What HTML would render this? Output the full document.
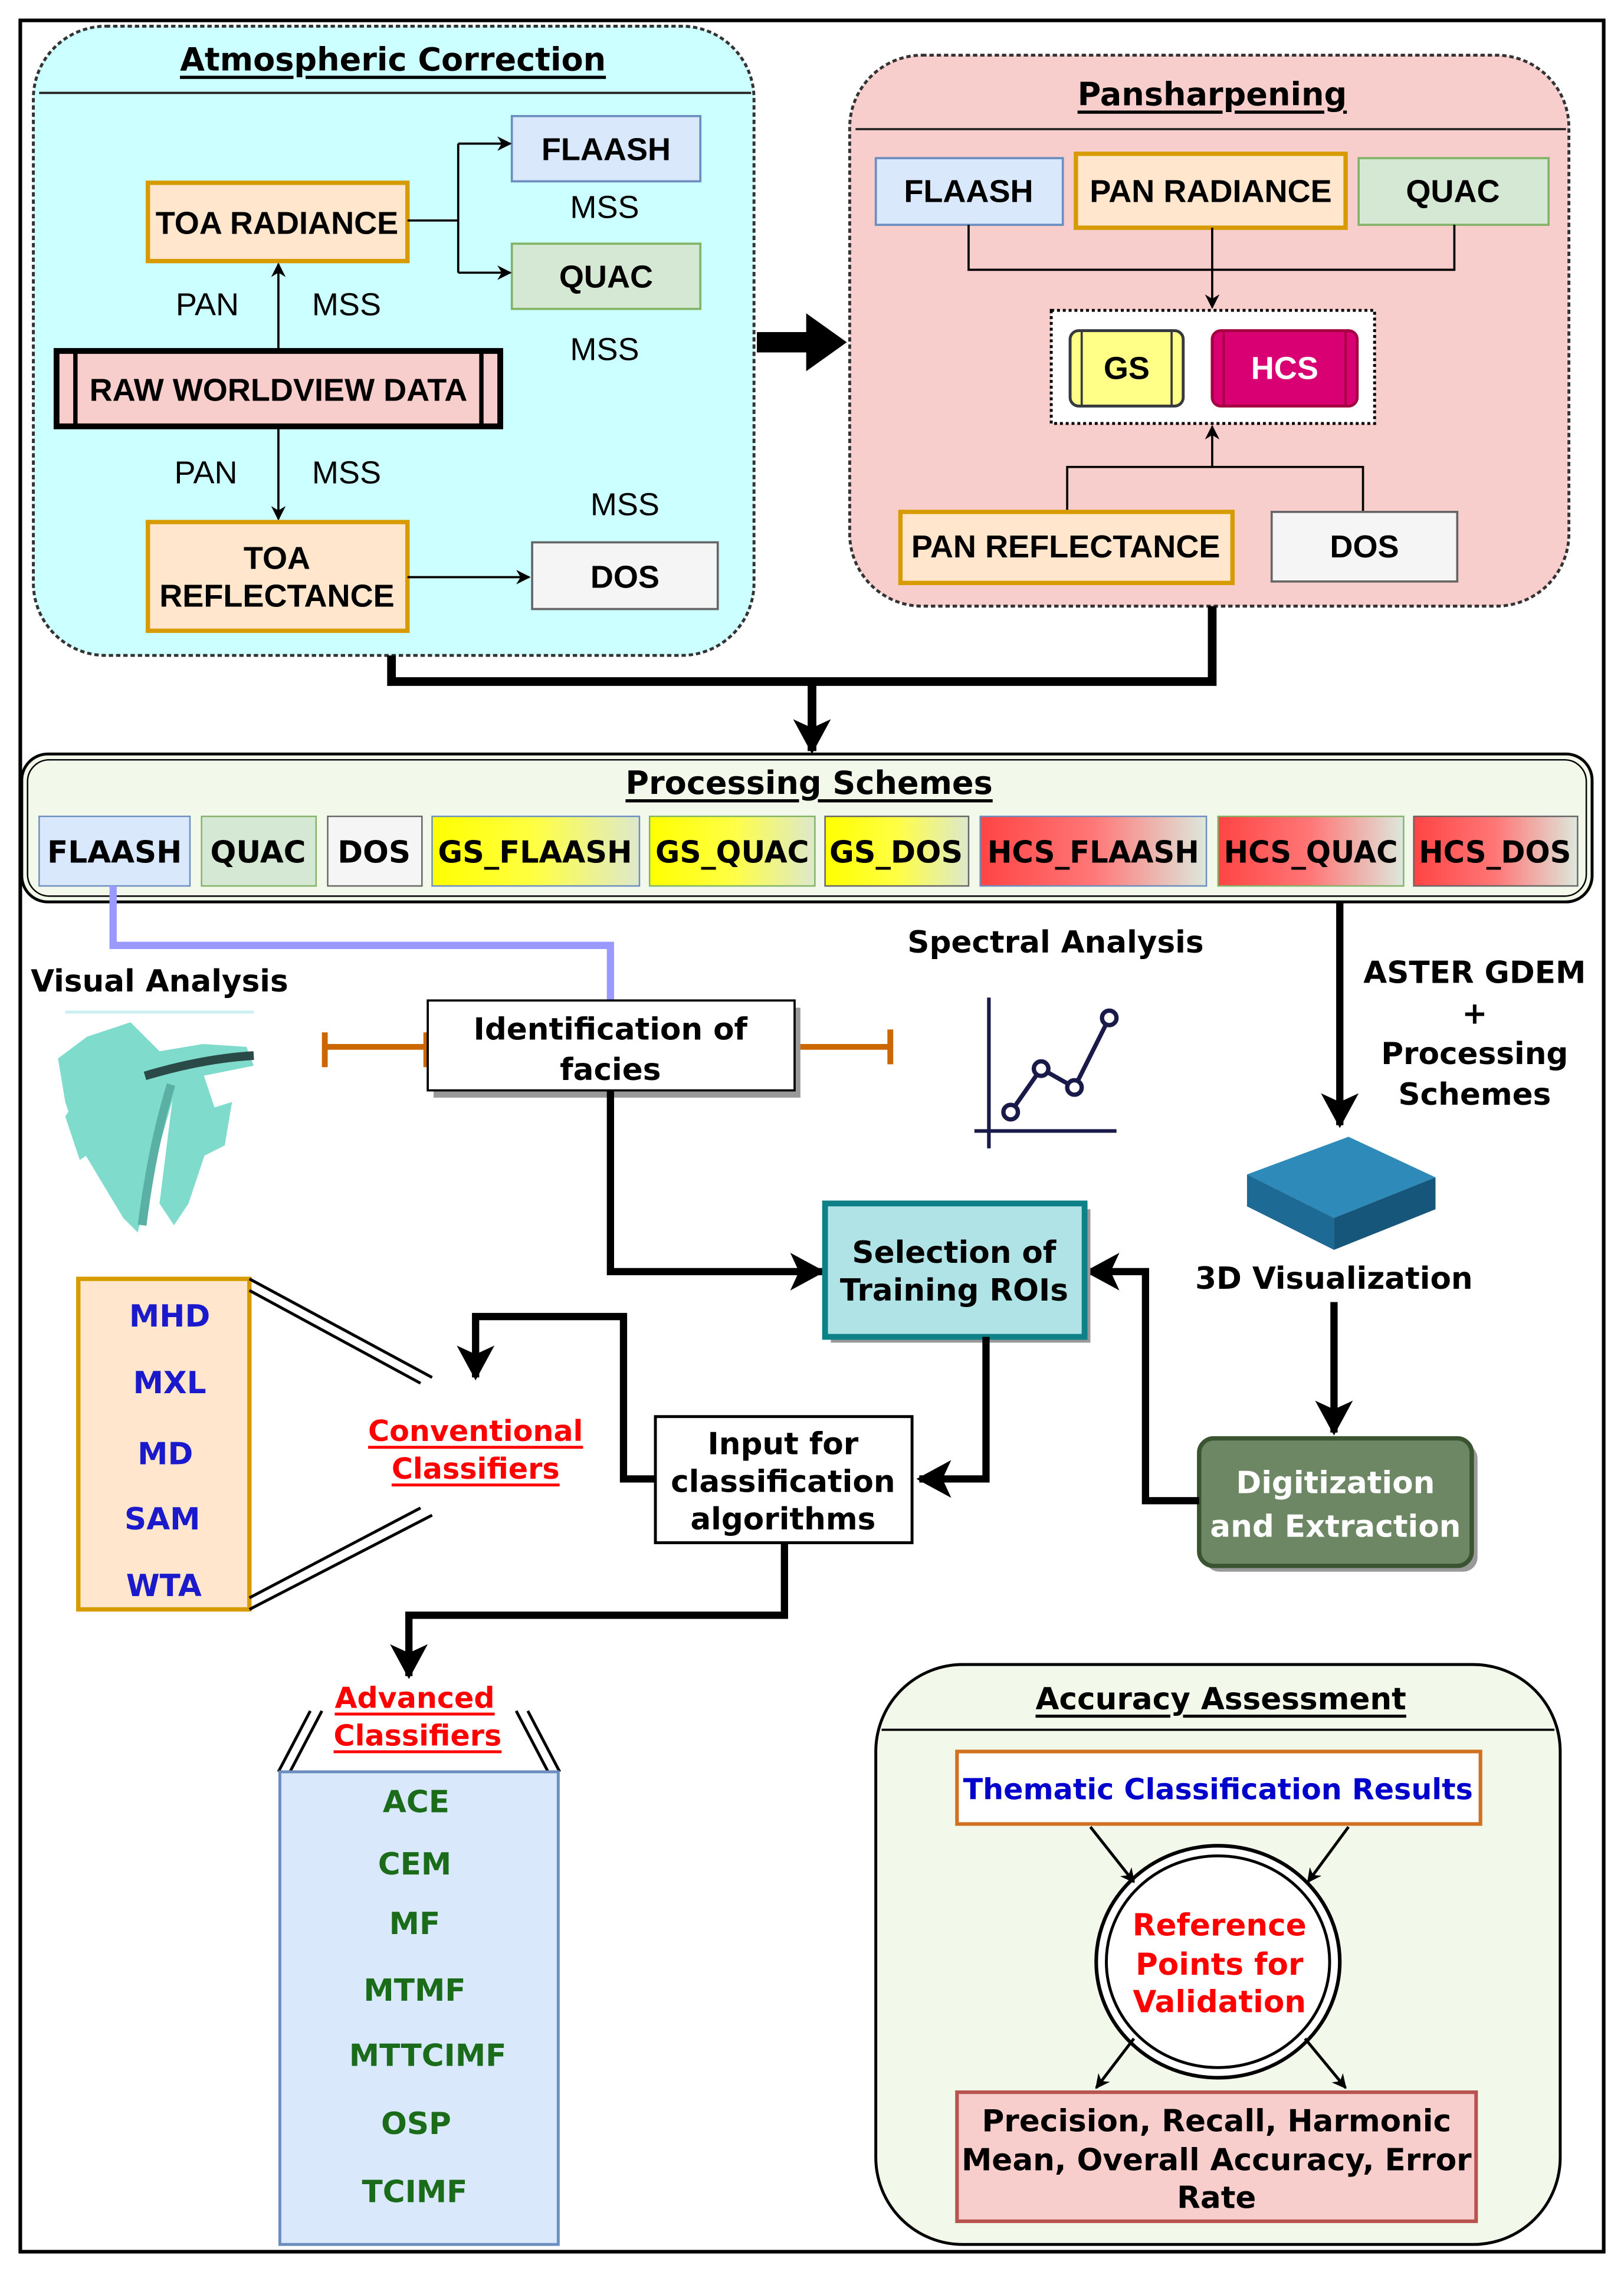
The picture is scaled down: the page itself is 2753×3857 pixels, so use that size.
<!DOCTYPE html>
<html><head><meta charset="utf-8"><style>
html,body{margin:0;padding:0;background:#fff;width:2753px;height:3857px;overflow:hidden}
svg{display:block}
text{font-family:"DejaVu Sans","Liberation Sans",sans-serif;font-weight:bold;text-anchor:middle;dominant-baseline:central}
.a{font-family:"Liberation Sans",sans-serif;font-weight:normal;font-size:22px}
.s{font-family:"Liberation Sans",sans-serif;font-weight:bold;font-size:21px}
.u{text-decoration:underline}
</style></head><body>
<svg width="2753" height="3857" viewBox="0 0 1120 1569" xmlns="http://www.w3.org/2000/svg">
<defs>
<marker id="ar" markerWidth="10" markerHeight="10" refX="9" refY="5" orient="auto" markerUnits="userSpaceOnUse"><path d="M0,0 L10,5 L0,10 L3,5Z" fill="#000"/></marker>
<marker id="AR" markerWidth="26" markerHeight="26" refX="22" refY="13" orient="auto" markerUnits="userSpaceOnUse"><path d="M0,0 L24,13 L0,26 L6,13Z" fill="#000"/></marker>
<linearGradient id="gy" x1="0" x2="1"><stop offset="0" stop-color="#ffff00"/><stop offset="0.5" stop-color="#ffff44"/><stop offset="1" stop-color="#dde8cc"/></linearGradient>
<linearGradient id="gr" x1="0" x2="1"><stop offset="0" stop-color="#ff4444"/><stop offset="0.5" stop-color="#ff7777"/><stop offset="1" stop-color="#dde8dc"/></linearGradient>
</defs>
<rect x="14" y="14" width="1092" height="1539" fill="#fff" stroke="#000" stroke-width="2.5"/>

<rect x="23" y="18" width="497" height="434" rx="50" fill="#ccffff" stroke="#333" stroke-width="2" stroke-dasharray="3,2"/>
<line x1="27" y1="64" x2="518" y2="64" stroke="#222" stroke-width="1.5"/>
<text x="271" y="41" font-size="22" class="u">Atmospheric Correction</text>
<rect x="353" y="80" width="130" height="45" fill="#dae8fc" stroke="#6c8ebf" stroke-width="1.5"/><text x="418" y="103" class="a" style="font-weight:bold">FLAASH</text>
<rect x="102" y="126" width="179" height="54" fill="#ffe6cc" stroke="#d79b00" stroke-width="3"/><text x="191" y="154" class="a" style="font-weight:bold">TOA RADIANCE</text>
<text x="417" y="143" class="a">MSS</text>
<rect x="353" y="168" width="130" height="45" fill="#d5e8d4" stroke="#82b366" stroke-width="1.5"/><text x="418" y="191" class="a" style="font-weight:bold">QUAC</text>
<text x="417" y="241" class="a">MSS</text>
<path d="M281,152 H316 V99 M316,152 V188" fill="none" stroke="#000" stroke-width="1.5"/>
<path d="M316,99 H352" stroke="#000" stroke-width="1.5" marker-end="url(#ar)"/>
<path d="M316,188 H352" stroke="#000" stroke-width="1.5" marker-end="url(#ar)"/>
<text x="143" y="210" class="a">PAN</text><text x="239" y="210" class="a">MSS</text>
<path d="M192,242 V182" stroke="#000" stroke-width="1.5" marker-end="url(#ar)"/>
<rect x="39" y="242" width="306" height="52" fill="#f8cecc" stroke="#000" stroke-width="4"/>
<line x1="52" y1="242" x2="52" y2="294" stroke="#000" stroke-width="3"/><line x1="332" y1="242" x2="332" y2="294" stroke="#000" stroke-width="3"/>
<text x="192" y="269" class="a" style="font-weight:bold">RAW WORLDVIEW DATA</text>
<text x="142" y="326" class="a">PAN</text><text x="239" y="326" class="a">MSS</text>
<path d="M192,294 V358" stroke="#000" stroke-width="1.5" marker-end="url(#ar)"/>
<rect x="102" y="360" width="179" height="75" fill="#ffe6cc" stroke="#d79b00" stroke-width="3"/>
<text x="191" y="385" class="a" style="font-weight:bold">TOA</text><text x="191" y="411" class="a" style="font-weight:bold">REFLECTANCE</text>
<text x="431" y="348" class="a">MSS</text>
<rect x="367" y="374" width="128" height="46" fill="#f5f5f5" stroke="#666" stroke-width="1.5"/><text x="431" y="398" class="a" style="font-weight:bold">DOS</text>
<path d="M281,398 H365" stroke="#000" stroke-width="1.5" marker-end="url(#ar)"/>

<path d="M522,229 H556 V216 L584,236 L556,256 V243 H522Z" fill="#000"/>

<rect x="586" y="38" width="496" height="380" rx="50" fill="#f8cecc" stroke="#333" stroke-width="2" stroke-dasharray="3,2"/>
<line x1="590" y1="89" x2="1080" y2="89" stroke="#222" stroke-width="1.5"/>
<text x="836" y="65" font-size="22" class="u">Pansharpening</text>
<rect x="604" y="109" width="129" height="46" fill="#dae8fc" stroke="#6c8ebf" stroke-width="1.5"/><text x="668" y="132" class="a" style="font-weight:bold">FLAASH</text>
<rect x="742" y="106" width="186" height="51" fill="#ffe6cc" stroke="#d79b00" stroke-width="3"/><text x="835" y="132" class="a" style="font-weight:bold">PAN RADIANCE</text>
<rect x="937" y="109" width="131" height="46" fill="#d5e8d4" stroke="#82b366" stroke-width="1.5"/><text x="1002" y="132" class="a" style="font-weight:bold">QUAC</text>
<path d="M668,155 V186 H1003 V155" fill="none" stroke="#000" stroke-width="1.5"/>
<path d="M836,157 V212" stroke="#000" stroke-width="1.5" marker-end="url(#ar)"/>
<rect x="725" y="214" width="223" height="78" fill="#fff" stroke="#000" stroke-width="2" stroke-dasharray="2,2"/>
<rect x="738" y="228" width="78" height="52" rx="6" fill="#ffff88" stroke="#36393d" stroke-width="2"/>
<line x1="746" y1="228" x2="746" y2="280" stroke="#36393d" stroke-width="1.5"/><line x1="808" y1="228" x2="808" y2="280" stroke="#36393d" stroke-width="1.5"/>
<text x="777" y="254" class="a" style="font-weight:bold">GS</text>
<rect x="836" y="228" width="100" height="52" rx="6" fill="#d80073" stroke="#a50040" stroke-width="2"/>
<line x1="844" y1="228" x2="844" y2="280" stroke="#a50040" stroke-width="1.5"/><line x1="928" y1="228" x2="928" y2="280" stroke="#a50040" stroke-width="1.5"/>
<text x="886" y="254" class="a" style="font-weight:bold;fill:#fff">HCS</text>
<path d="M736,353 V322 H940 V353" fill="none" stroke="#000" stroke-width="1.5"/>
<path d="M836,322 V294" stroke="#000" stroke-width="1.5" marker-end="url(#ar)"/>
<rect x="621" y="353" width="229" height="49" fill="#ffe6cc" stroke="#d79b00" stroke-width="3"/><text x="735" y="377" class="a" style="font-weight:bold">PAN REFLECTANCE</text>
<rect x="877" y="353" width="128" height="48" fill="#f5f5f5" stroke="#666" stroke-width="1.5"/><text x="941" y="377" class="a" style="font-weight:bold">DOS</text>

<path d="M270,452 V470 H836 V418" fill="none" stroke="#000" stroke-width="6"/>
<path d="M560,468 V518" stroke="#000" stroke-width="6" marker-end="url(#AR)"/>

<rect x="15" y="520" width="1083" height="102" rx="18" fill="#f2f9ea" stroke="#000" stroke-width="2"/>
<rect x="19" y="524" width="1075" height="94" rx="15" fill="none" stroke="#000" stroke-width="1"/>
<text x="558" y="540" font-size="22" class="u">Processing Schemes</text>
<g class="s">
<rect x="27" y="563" width="104" height="48" fill="#dae8fc" stroke="#6c8ebf"/><text x="79" y="588">FLAASH</text>
<rect x="139" y="563" width="79" height="48" fill="#d5e8d4" stroke="#82b366"/><text x="178" y="588">QUAC</text>
<rect x="226" y="563" width="65" height="48" fill="#f5f5f5" stroke="#666"/><text x="258" y="588">DOS</text>
<rect x="298" y="563" width="143" height="48" fill="url(#gy)" stroke="#6c8ebf"/><text x="369" y="588" textLength="134" lengthAdjust="spacingAndGlyphs">GS_FLAASH</text>
<rect x="448" y="563" width="114" height="48" fill="url(#gy)" stroke="#82b366"/><text x="505" y="588" textLength="106" lengthAdjust="spacingAndGlyphs">GS_QUAC</text>
<rect x="569" y="563" width="99" height="48" fill="url(#gy)" stroke="#666"/><text x="618" y="588" textLength="92" lengthAdjust="spacingAndGlyphs">GS_DOS</text>
<rect x="676" y="563" width="156" height="48" fill="url(#gr)" stroke="#6c8ebf"/><text x="754" y="588" textLength="146" lengthAdjust="spacingAndGlyphs">HCS_FLAASH</text>
<rect x="840" y="563" width="128" height="48" fill="url(#gr)" stroke="#82b366"/><text x="904" y="588" textLength="120" lengthAdjust="spacingAndGlyphs">HCS_QUAC</text>
<rect x="975" y="563" width="113" height="48" fill="url(#gr)" stroke="#666"/><text x="1031" y="588" textLength="105" lengthAdjust="spacingAndGlyphs">HCS_DOS</text>
</g>
<path d="M78,611 V652 H421 V690" fill="none" stroke="#9999ff" stroke-width="5"/>

<text x="110" y="677" font-size="21">Visual Analysis</text>
<line x1="45" y1="698" x2="175" y2="698" stroke="#ccf0f0" stroke-width="2"/>
<g fill="#7fdccc">
<path d="M60,715 L90,705 L110,725 L140,720 L170,722 L175,735 L140,742 L120,755 L110,790 L100,830 L95,850 L85,840 L70,815 L55,790 L45,760 L40,730Z"/>
<path d="M120,750 L140,740 L150,770 L140,800 L130,830 L120,845 L110,830 L115,790Z"/>
<path d="M65,740 L45,770 L55,800 L70,790Z"/>
<path d="M128,770 L160,760 L155,790 L135,800Z"/>
</g>
<path d="M100,742 Q140,730 175,728" stroke="#2a4a48" stroke-width="6" fill="none"/>
<path d="M118,748 Q105,790 98,845" stroke="#5ab0a4" stroke-width="6" fill="none"/>

<path d="M224,722 H294 M224,712 V736 M294,712 V736" stroke="#cc6600" stroke-width="4" fill="none"/>
<path d="M548,722 H614 M614,710 V734" stroke="#cc6600" stroke-width="4" fill="none"/>
<rect x="299" y="695" width="253" height="62" fill="#999"/>
<rect x="295" y="690" width="253" height="62" fill="#fff" stroke="#000" stroke-width="1.5"/>
<text x="421" y="710" font-size="21">Identification of</text><text x="421" y="738" font-size="21">facies</text>
<path d="M421,752 V877 H567" fill="none" stroke="#000" stroke-width="5" marker-end="url(#AR)"/>

<text x="728" y="650" font-size="21">Spectral Analysis</text>
<path d="M682,688 V792 M672,780 H770" stroke="#1a1a4a" stroke-width="2.5" fill="none"/>
<polyline points="697,767 718,737 741,750 765,702" fill="none" stroke="#1a1a4a" stroke-width="3"/>
<g fill="#fff" stroke="#1a1a4a" stroke-width="3"><circle cx="697" cy="767" r="5"/><circle cx="718" cy="737" r="5"/><circle cx="741" cy="750" r="5"/><circle cx="765" cy="702" r="5"/></g>

<path d="M924,622 V776" stroke="#000" stroke-width="5" marker-end="url(#AR)"/>
<text x="1017" y="671" font-size="21">ASTER GDEM</text><text x="1017" y="699" font-size="21">+</text>
<text x="1017" y="727" font-size="21">Processing</text><text x="1017" y="755" font-size="21">Schemes</text>
<path d="M860,810 L930,784 L990,812 L920,840Z" fill="#2e8ab8"/>
<path d="M860,810 L920,840 L920,862 L860,832Z" fill="#1d6a94"/>
<path d="M920,840 L990,812 L990,834 L920,862Z" fill="#15567a"/>
<text x="920" y="882" font-size="21">3D Visualization</text>
<path d="M920,898 V988" stroke="#000" stroke-width="5" marker-end="url(#AR)"/>
<rect x="831" y="996" width="188" height="88" rx="10" fill="#999"/>
<rect x="827" y="992" width="188" height="88" rx="10" fill="#6d8764" stroke="#3a5431" stroke-width="3"/>
<text x="921" y="1023" font-size="21" fill="#fff">Digitization</text><text x="921" y="1053" font-size="21" fill="#fff">and Extraction</text>
<path d="M827,1035 H790 V877 H750" fill="none" stroke="#000" stroke-width="5" marker-end="url(#AR)"/>

<rect x="573" y="834" width="179" height="92" fill="#999"/>
<rect x="569" y="830" width="179" height="92" fill="#b0e3e6" stroke="#0e8088" stroke-width="4"/>
<text x="658" y="864" font-size="21">Selection of</text><text x="658" y="890" font-size="21">Training ROIs</text>
<path d="M680,922 V1020 H634" fill="none" stroke="#000" stroke-width="5" marker-end="url(#AR)"/>
<rect x="452" y="977" width="177" height="87" fill="#fff" stroke="#000" stroke-width="2"/>
<text x="540" y="996" font-size="21">Input for</text><text x="540" y="1022" font-size="21">classification</text><text x="540" y="1048" font-size="21">algorithms</text>
<path d="M452,1020 H430 V908 H328 V950" fill="none" stroke="#000" stroke-width="5" marker-end="url(#AR)"/>
<path d="M541,1064 V1114 H282 V1156" fill="none" stroke="#000" stroke-width="5" marker-end="url(#AR)"/>

<rect x="54" y="882" width="118" height="228" fill="#ffe6cc" stroke="#d79b00" stroke-width="3"/>
<g font-size="21" fill="#1a1acc"><text x="117" y="908">MHD</text><text x="117" y="954">MXL</text><text x="114" y="1003">MD</text><text x="112" y="1048">SAM</text><text x="113" y="1094">WTA</text></g>
<path d="M172,882 L298,950 M172,890 L290,954 M172,1102 L290,1040 M172,1110 L298,1045" stroke="#000" stroke-width="2"/>
<text x="328" y="987" font-size="20" fill="#ff0000" class="u">Conventional</text>
<text x="328" y="1013" font-size="20" fill="#ff0000" class="u">Classifiers</text>

<text x="286" y="1171" font-size="20" fill="#ff0000" class="u">Advanced</text>
<text x="288" y="1197" font-size="20" fill="#ff0000" class="u">Classifiers</text>
<path d="M192,1222 L214,1180 M200,1222 L222,1180 M386,1222 L364,1180 M378,1222 L356,1180" stroke="#000" stroke-width="2"/>
<rect x="193" y="1222" width="192" height="326" fill="#dae8fc" stroke="#6c8ebf" stroke-width="2"/>
<g font-size="21" fill="#1a6b1a"><text x="287" y="1243">ACE</text><text x="286" y="1286">CEM</text><text x="286" y="1327">MF</text><text x="286" y="1373">MTMF</text><text x="295" y="1418">MTTCIMF</text><text x="287" y="1465">OSP</text><text x="286" y="1512">TCIMF</text></g>

<rect x="604" y="1148" width="472" height="400" rx="60" fill="#f2f9ea" stroke="#000" stroke-width="2"/>
<line x1="608" y1="1193" x2="1072" y2="1193" stroke="#000" stroke-width="1.5"/>
<text x="842" y="1172" font-size="21" class="u">Accuracy Assessment</text>
<rect x="660" y="1208" width="361" height="50" fill="#fff" stroke="#d07020" stroke-width="2.5"/>
<text x="840" y="1234" font-size="20" fill="#0000cc">Thematic Classification Results</text>
<ellipse cx="840" cy="1353" rx="84" ry="80" fill="#fff" stroke="#000" stroke-width="2.5"/>
<ellipse cx="840" cy="1353" rx="77" ry="73" fill="none" stroke="#000" stroke-width="2"/>
<g font-size="21" fill="#ff0000"><text x="841" y="1328">Reference</text><text x="841" y="1355">Points for</text><text x="841" y="1381">Validation</text></g>
<g stroke="#000" stroke-width="2" marker-end="url(#ar)"><path d="M752,1260 L782,1298"/><path d="M930,1260 L902,1298"/><path d="M782,1406 L756,1440"/><path d="M900,1406 L928,1440"/></g>
<rect x="660" y="1443" width="358" height="89" fill="#f8cecc" stroke="#b85450" stroke-width="2.5"/>
<text x="839" y="1463" font-size="21">Precision, Recall, Harmonic</text>
<text x="839" y="1490" font-size="21">Mean, Overall Accuracy, Error</text>
<text x="839" y="1516" font-size="21">Rate</text>
</svg>
</body></html>
